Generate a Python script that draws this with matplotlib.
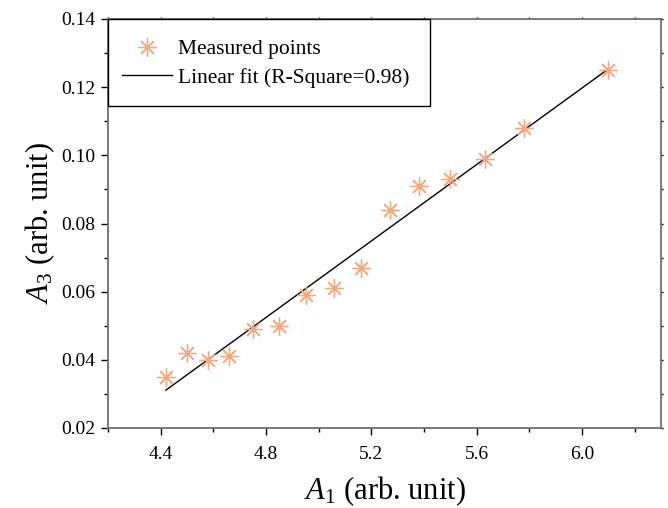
import numpy as np
import matplotlib
matplotlib.use("Agg")
import matplotlib.pyplot as plt
from matplotlib.patches import Rectangle
from matplotlib.ticker import MultipleLocator, FormatStrFormatter

# Measured amplitudes
a1 = [4.42, 4.50, 4.58, 4.66, 4.75, 4.85, 4.95, 5.06, 5.16, 5.27, 5.38, 5.50, 5.63, 5.78, 6.10]
a3 = [0.035, 0.042, 0.040, 0.041, 0.049, 0.050, 0.059, 0.061, 0.067, 0.084, 0.091, 0.093, 0.099, 0.108, 0.125]

x_ticks = [4.4, 4.8, 5.2, 5.6, 6.0]
y_ticks = [0.02, 0.04, 0.06, 0.08, 0.10, 0.12, 0.14]

plt.rcParams["font.family"] = ["Liberation Serif", "DejaVu Serif"]
plt.rcParams["mathtext.fontset"] = "custom"
plt.rcParams["mathtext.rm"] = "Liberation Serif"
plt.rcParams["mathtext.it"] = "Liberation Serif:italic"

W, H = 668, 508
fig = plt.figure(figsize=(W / 100, H / 100), dpi=100)
ax_left, ax_top, ax_w, ax_h = 108, 19, 553, 409
ax = fig.add_axes([ax_left / W, 1 - (ax_top + ax_h) / H, ax_w / W, ax_h / H])

x = np.array(a1)
y = np.array(a3)
slope, intercept = np.polyfit(x, y, 1)
xf = np.array([x.min(), x.max()])

star = (8, 2, 0)
ax.plot(x, y, linestyle="none", marker=star, markersize=13, markeredgewidth=0.95,
        color="#F6A87C", label="Measured points", zorder=3)
ax.plot(xf, slope * xf + intercept, color="black", linewidth=1.0,
        label="Linear fit (R-Square=0.98)", zorder=2)

ax.set_xlim(4.2, 6.3)
ax.set_ylim(0.02, 0.14)
ax.set_xticks(x_ticks)
ax.set_yticks(y_ticks)
ax.xaxis.set_major_formatter(FormatStrFormatter("%.1f"))
ax.yaxis.set_major_formatter(FormatStrFormatter("%.2f"))
ax.xaxis.set_minor_locator(MultipleLocator(0.2))
ax.yaxis.set_minor_locator(MultipleLocator(0.01))

spine_color = "#6f6f6f"
for s in ax.spines.values():
    s.set_color(spine_color)
    s.set_linewidth(1.3)

ax.tick_params(which="both", direction="out", colors="black", labelsize=14,
               top=True, right=True, width=1.0)
ax.tick_params(which="major", length=5)
ax.tick_params(which="minor", length=3)
ax.tick_params(axis="x", which="major", pad=8)
ax.tick_params(axis="y", which="major", pad=4)

# tiny ticks on the top and right spines
for axis in (ax.xaxis, ax.yaxis):
    for t in axis.get_major_ticks() + axis.get_minor_ticks():
        t.tick2line.set_markersize(1.5)

ax.set_xlabel(r"$A_{\mathit{1}}$ (arb. unit)", fontsize=22, labelpad=8)
ax.set_ylabel(r"$A_{\mathrm{3}}$ (arb. unit)", fontsize=22, labelpad=3)

# legend box drawn as a plain rectangle in the upper-left corner
box_w, box_h = 322, 87
ax.add_patch(Rectangle((0, 1 - box_h / ax_h), box_w / ax_w, box_h / ax_h,
                       transform=ax.transAxes, facecolor="white",
                       edgecolor="black", linewidth=1.0, zorder=4,
                       clip_on=False))
leg = ax.legend(loc="upper left", bbox_to_anchor=(0, 1 - 6 / ax_h),
                borderaxespad=0, fontsize=15.5, frameon=False,
                handlelength=2.3, borderpad=0.65, labelspacing=0.39,
                handletextpad=0.28)
leg.set_zorder(5)

fig.savefig("out.png", dpi=100)
